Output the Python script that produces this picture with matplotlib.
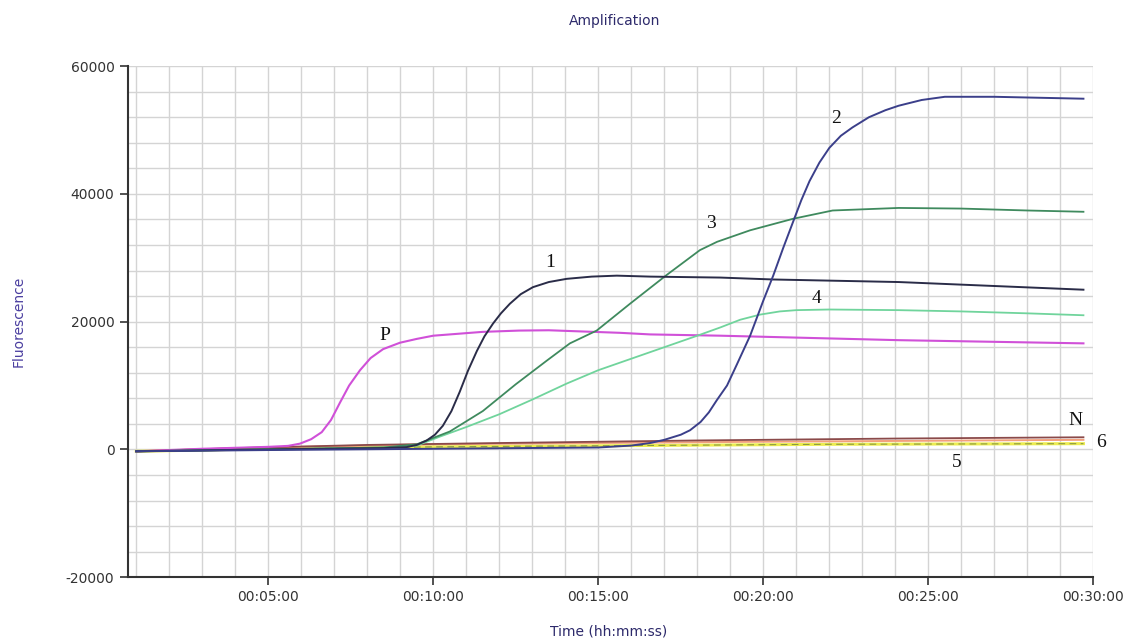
import matplotlib
matplotlib.use("Agg")
import matplotlib.pyplot as plt
from matplotlib.ticker import MultipleLocator, FuncFormatter

plt.rcParams['axes.unicode_minus'] = False

# time in minutes, fluorescence in arbitrary units
t_p = [1, 3, 5, 5.6, 5.96, 6.3, 6.62, 6.9, 7.17, 7.45, 7.78, 8.1, 8.48, 8.99, 9.5, 10, 11.5, 12.6,
       13.5, 15.66, 16.57, 18.7, 24.1, 29.7]
y_p = [-300, 100, 400, 550, 900, 1600, 2700, 4600, 7300, 10000, 12400, 14300, 15700, 16700, 17300,
       17800, 18400, 18600, 18650, 18250, 18000, 17800, 17100, 16600]

t_1 = [1, 5, 8.5, 9.19, 9.5, 9.8, 10.05, 10.29, 10.55, 10.8, 11.05, 11.32, 11.55, 11.81, 12.05,
       12.32, 12.65, 13.02, 13.5, 14.04, 14.8, 15.56, 16.57, 18.7, 20.3, 24.1, 29.7]
y_1 = [-300, 0, 200, 360, 700, 1400, 2300, 3700, 6000, 9000, 12300, 15400, 17700, 19700, 21300,
       22800, 24300, 25400, 26200, 26700, 27050, 27200, 27050, 26900, 26600, 26200, 25000]

t_2 = [1, 5, 10, 15, 16, 16.57, 17, 17.5, 17.78, 18.1, 18.35, 18.59, 18.9, 19.19, 19.6, 20.0,
       20.3, 20.6, 20.9, 21.15, 21.4, 21.7, 22.0, 22.35, 22.7, 23.2, 23.7, 24.1, 24.8, 25.5, 27, 29.7]
y_2 = [-300, -100, 100, 300, 600, 1000, 1500, 2300, 3000, 4300, 5800, 7700, 10000, 13200, 17800,
       23300, 27200, 31500, 35600, 39000, 42000, 44900, 47200, 49100, 50400, 52000, 53100, 53800,
       54700, 55200, 55200, 54900]

t_3 = [1, 5, 8.5, 9.5, 10.5, 11.5, 12.5, 13.44, 14.14, 14.95, 15.96, 17.07, 18.08, 18.6, 19.6,
       20.9, 22.1, 24.1, 26, 28, 29.7]
y_3 = [-300, 0, 300, 800, 2800, 6000, 10200, 13900, 16600, 18600, 22800, 27300, 31200, 32500,
       34300, 36100, 37400, 37800, 37700, 37400, 37200]

t_4 = [1, 5, 8.5, 9.5, 10.2, 11, 12, 13, 14.04, 15, 16, 17, 18, 18.7, 19.3, 19.9, 20.5, 21, 22,
       24.1, 26, 28, 29.7]
y_4 = [-300, 0, 300, 600, 2000, 3500, 5500, 7800, 10300, 12400, 14200, 16000, 17800, 19100,
       20300, 21100, 21600, 21800, 21900, 21800, 21600, 21300, 21000]

t_n = [1, 4, 8, 12, 18, 24, 29.7]
y_n = [-300, 200, 700, 1000, 1400, 1700, 1900]

t_6 = [1, 5, 10, 15, 20, 29.7]
y_6 = [-300, 300, 800, 1000, 1200, 1500]

t_5 = [1, 5, 10, 16, 22, 29.7]
y_5 = [-300, 100, 400, 600, 800, 900]

labels = ["P", "1", "2", "3", "4", "N", "6", "5"]
label_t = [8.54, 13.54, 22.2, 18.4, 21.6, 29.45, 30.24, 25.87]
label_y = [17850, 29290, 51840, 35400, 23650, 4540, 1100, -2030]

fig = plt.figure(figsize=(11.33, 6.42), dpi=100)
ax = fig.add_axes([0.1127, 0.101, 0.8523, 0.796])

ax.plot(t_5, y_5, color="#ecec50", lw=2.2)
ax.plot(t_5, y_5, color="#8a9a40", lw=0.8, ls=(0, (6, 4)))
ax.plot(t_6, y_6, color="#f2a07c", lw=1.4)
ax.plot(t_n, y_n, color="#8b4a4a", lw=1.3)
ax.plot(t_p, y_p, color="#d050d8", lw=1.5)
ax.plot(t_4, y_4, color="#70d49c", lw=1.3)
ax.plot(t_3, y_3, color="#3f8a5e", lw=1.3)
ax.plot(t_1, y_1, color="#2a2c48", lw=1.4)
ax.plot(t_2, y_2, color="#3b3f8a", lw=1.4)

for s, x, y in zip(labels, label_t, label_y):
    ax.text(x, y, s, family="Liberation Serif", fontsize=14, ha="center", va="center",
            color="#111111", clip_on=False)

ax.set_xlim(0.74, 30)
ax.set_ylim(-20000, 60000)
ax.xaxis.set_major_locator(MultipleLocator(5))
ax.xaxis.set_minor_locator(MultipleLocator(1))
ax.yaxis.set_major_locator(MultipleLocator(20000))
ax.yaxis.set_minor_locator(MultipleLocator(4000))
ax.xaxis.set_major_formatter(FuncFormatter(lambda v, p: "00:%02d:00" % int(round(v))))
ax.grid(which="both", color="#d4d4d4", lw=1.0)
ax.set_axisbelow(True)
ax.tick_params(which="major", direction="out", length=6, width=1.2, color="#333333",
               labelsize=10, labelcolor="#333333")
ax.tick_params(which="minor", length=0)

for side in ["top", "right"]:
    ax.spines[side].set_visible(False)
for side in ["left", "bottom"]:
    ax.spines[side].set_color("#333333")
    ax.spines[side].set_linewidth(1.5)

fig.text(0.542, 0.968, "Amplification", ha="center", va="center", fontsize=10, color="#2d2a6b")
fig.text(0.016, 0.50, "Fluorescence", ha="center", va="center", rotation=90, fontsize=10, color="#4b3fa0")
fig.text(0.537, 0.017, "Time (hh:mm:ss)", ha="center", va="center", fontsize=10, color="#2d2a6b")

fig.savefig("out.png", dpi=100)
